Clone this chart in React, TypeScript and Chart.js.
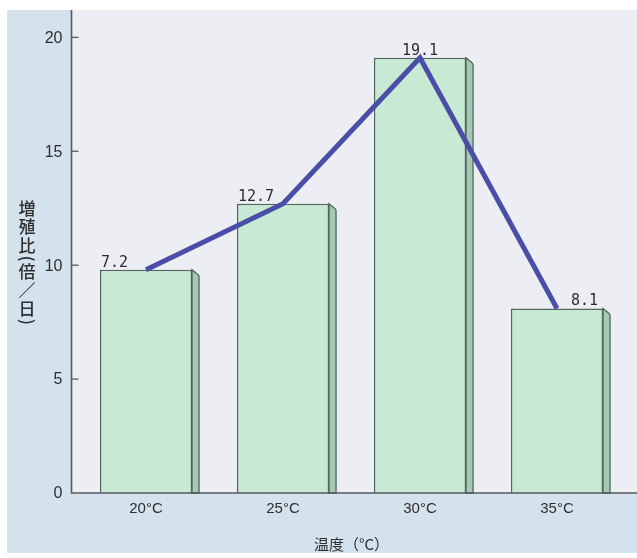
import { useEffect, useRef } from 'react';
import { Chart, registerables } from 'chart.js';

Chart.register(...registerables);

// ---- data ----
const categories = ['20°C', '25°C', '30°C', '35°C'];
const growthRatio = [9.8, 12.7, 19.1, 8.1];
const valueLabels = ['7.2', '12.7', '19.1', '8.1'];
const yTickValues = [0, 5, 10, 15, 20];
const yAxisTitleChars = ['増', '殖', '比', '(', '倍', '／', '日', ')'];
const xAxisTitle = '温度（°C）';

// ---- styles ----
const LABEL_ALIGN: CanvasTextAlign[] = ['left', 'left', 'center', 'right'];
const BAR_FRONT = '#c8ead5';
const BAR_SIDE = '#a7c8b4';
const BAR_EDGE = '#4f675b';
const LINE_COLOR = '#4b4ea6';
const AXIS_COLOR = '#555a5e';
const TEXT_COLOR = '#2e2e2e';

const decorPlugin = {
  id: 'decor',
  beforeDraw(chart: any) {
    const { ctx, chartArea, width, height } = chart;
    ctx.save();
    ctx.fillStyle = '#ffffff';
    ctx.fillRect(0, 0, width, height);
    ctx.fillStyle = '#d4e2ee';
    ctx.fillRect(7, 10, width - 7, height - 15);
    ctx.fillStyle = '#eceef4';
    ctx.fillRect(chartArea.left - 6, 10, width - chartArea.left + 6, chartArea.bottom - 10);
    ctx.restore();
  },
  afterDatasetDraw(chart: any, args: any) {
    if (args.meta.type !== 'bar') return;
    const { ctx } = chart;
    const d = 7;
    ctx.save();
    args.meta.data.forEach((el: any) => {
      const right = el.x + el.width / 2;
      const top = el.y;
      const base = el.base;
      ctx.beginPath();
      ctx.moveTo(right, top);
      ctx.lineTo(right + d - 1, top + d - 2);
      ctx.quadraticCurveTo(right + d, top + d - 1, right + d, top + d);
      ctx.lineTo(right + d, base);
      ctx.lineTo(right, base);
      ctx.closePath();
      ctx.fillStyle = BAR_SIDE;
      ctx.fill();
      ctx.strokeStyle = BAR_EDGE;
      ctx.lineWidth = 1.3;
      ctx.stroke();
    });
    ctx.restore();
  },
  afterDraw(chart: any) {
    const { ctx, chartArea } = chart;
    const yScale = chart.scales.y;
    const axisX = chartArea.left - 6;
    ctx.save();
    // axes
    ctx.strokeStyle = AXIS_COLOR;
    ctx.lineWidth = 1.6;
    ctx.beginPath();
    ctx.moveTo(axisX, 10);
    ctx.lineTo(axisX, chartArea.bottom);
    ctx.lineTo(chart.width, chartArea.bottom);
    ctx.stroke();
    ctx.lineWidth = 1.3;
    ctx.fillStyle = TEXT_COLOR;
    ctx.font = '16px "Liberation Sans", Arial, sans-serif';
    ctx.textAlign = 'right';
    ctx.textBaseline = 'middle';
    yTickValues.forEach((v) => {
      const y = yScale.getPixelForValue(v);
      ctx.fillText(String(v), axisX - 9, y + 1);
      if (v === 0) return;
      ctx.beginPath();
      ctx.moveTo(axisX, y);
      ctx.lineTo(axisX + 7, y);
      ctx.stroke();
    });

    // value labels
    const barMeta = chart.getDatasetMeta(0);
    ctx.fillStyle = TEXT_COLOR;
    ctx.font = '15px "DejaVu Sans Mono", monospace';
    ctx.textBaseline = 'alphabetic';
    barMeta.data.forEach((el: any, i: number) => {
      const align = LABEL_ALIGN[i];
      let x = el.x;
      if (align === 'left') x = el.x - el.width / 2 + 1;
      if (align === 'right') x = el.x + el.width / 2 - 5;
      ctx.textAlign = align;
      ctx.fillText(valueLabels[i], x, el.y - 3);
    });

    // vertical y-axis title
    ctx.fillStyle = TEXT_COLOR;
    ctx.textAlign = 'center';
    ctx.textBaseline = 'middle';
    let cursor = 199;
    const cx = 27;
    yAxisTitleChars.forEach((ch) => {
      const paren = ch === '(' || ch === ')';
      const h = paren ? 8 : 18.5;
      const cy = cursor + h / 2;
      ctx.font = '500 17px "Noto Sans CJK JP", sans-serif';
      if (paren) {
        ctx.save();
        ctx.translate(cx, cy);
        ctx.rotate(Math.PI / 2);
        ctx.fillText(ch, 0, 0);
        ctx.restore();
      } else {
        ctx.fillText(ch, cx, cy);
      }
      cursor += h;
    });
    ctx.restore();
  },
};

export default function App() {
  const ref = useRef<HTMLCanvasElement | null>(null);

  useEffect(() => {
    if (!ref.current) return;
    const chart = new Chart(ref.current, {
      type: 'bar',
      data: {
        labels: categories,
        datasets: [
          {
            type: 'bar',
            data: growthRatio,
            backgroundColor: BAR_FRONT,
            borderColor: BAR_EDGE,
            borderWidth: 1.5,
            categoryPercentage: 1,
            barPercentage: 0.672,
            order: 1,
          } as any,
          {
            type: 'line',
            data: growthRatio,
            borderColor: LINE_COLOR,
            borderWidth: 5,
            pointRadius: 0,
            tension: 0,
            fill: false,
            order: 0,
          } as any,
        ],
      },
      options: {
        animation: false,
        responsive: false,
        events: [],
        layout: { padding: { left: 0, right: 11.5, top: 10, bottom: 0 } },
        plugins: { legend: { display: false }, tooltip: { enabled: false } },
        scales: {
          x: {
            grid: { display: false, drawTicks: false },
            border: { display: false },
            ticks: {
              padding: 7,
              color: TEXT_COLOR,
              font: { family: '"Liberation Sans", Arial, sans-serif', size: 15 },
            },
            title: {
              display: true,
              text: xAxisTitle,
              color: TEXT_COLOR,
              font: { family: '"Noto Sans CJK JP", sans-serif', size: 15 },
              padding: { top: 0, bottom: 5 },
            },
            afterFit: (s: any) => {
              s.height = 65;
            },
          },
          y: {
            min: 0,
            max: 21.2,
            grid: { display: false, drawTicks: false },
            border: { display: false },
            ticks: { display: false },
            afterFit: (s: any) => {
              s.width = 77.5;
            },
          },
        },
      },
      plugins: [decorPlugin],
    });
    return () => chart.destroy();
  }, []);

  return (
    <div style={{ position: 'fixed', left: 0, top: 0, width: 637, height: 558 }}>
      <canvas ref={ref} width={637} height={558} style={{ display: 'block' }} />
    </div>
  );
}
